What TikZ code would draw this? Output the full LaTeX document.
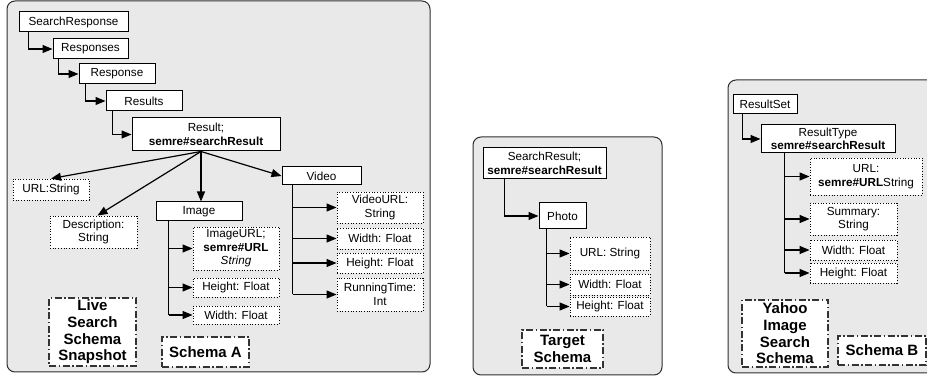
\documentclass[tikz,border=0pt]{standalone}
\usepackage{fontspec}
\setmainfont{Liberation Sans}
\usetikzlibrary{arrows.meta}
\definecolor{panelfill}{HTML}{E9E9E9}
\definecolor{panelline}{HTML}{2E2E2E}
\begin{document}
\begin{tikzpicture}[x=1pt,y=-1pt,
 every node/.style={font=\fontsize{11.7pt}{13.5pt}\selectfont, inner sep=0pt, align=center},
 panel/.style={draw=panelline, fill=panelfill, line width=1pt, rounded corners=8pt},
 box/.style={draw=black, fill=white, line width=1pt},
 dotbox/.style={draw=black, fill=white, line width=0.9pt, dash pattern=on 0.9pt off 1.8pt},
 lblbox/.style={draw=black!80, fill=white, line width=1.1pt, dash pattern=on 7pt off 2.5pt on 1.5pt off 2.5pt, font=\fontsize{15pt}{16.7pt}\selectfont\bfseries},
 arr/.style={line width=1.2pt, -{Triangle[length=10pt,width=8pt]}},
 ln/.style={line width=1.2pt}]
\useasboundingbox (0,0) rectangle (927,379);
\clip (0,0) rectangle (927,379);

% ---------- Panel 1 ----------
\draw[panel] (7,1) rectangle (430,372);
\node[box, minimum width=109pt, minimum height=20pt] (sr) at (73.5,22) {SearchResponse};
\node[box, minimum width=75pt, minimum height=20pt] (rs) at (90.5,49) {Responses};
\node[box, minimum width=76pt, minimum height=20pt] (rp) at (117,74) {Response};
\node[box, minimum width=76pt, minimum height=20pt] (rts) at (144,101) {Results};
\node[box, minimum width=148pt, minimum height=33pt] (res) at (206,134.5) {Result;\\\textbf{semre\#searchResult}};
\draw[arr] ([xshift=10pt]sr.south west) |- (rs.west);
\draw[arr] ([xshift=6pt]rs.south west) |- (rp.west);
\draw[arr] ([xshift=7pt]rp.south west) |- (rts.west);
\draw[arr] ([xshift=7pt]rts.south west) |- (res.west);

\node[dotbox, minimum width=76pt, minimum height=21pt] (url) at (51,189.5) {URL:String};
\node[dotbox, minimum width=87pt, minimum height=32pt] (desc) at (93.5,232) {Description:\\String};
\node[box, minimum width=86pt, minimum height=19pt] (img) at (199,211.5) {Image};
\node[box, minimum width=79pt, minimum height=18pt] (vid) at (321.5,176) {Video};
\coordinate (resb) at ([xshift=-5pt]res.south);
\draw[arr] (resb) -- (url.north);
\draw[arr] (resb) -- ([xshift=4pt]desc.north);
\draw[arr] (resb) -- (resb |- img.north);
\draw[arr] (resb) -- (vid.west);

\node[dotbox, minimum width=86pt, minimum height=43pt] (iurl) at (236,248.5) {ImageURL;\\\textbf{semre\#URL}\\\textit{String}};
\node[dotbox, minimum width=86pt, minimum height=19pt] (ih) at (236,287.5) {Height: Float};
\node[dotbox, minimum width=86pt, minimum height=18pt] (iw) at (236,315) {Width: Float};
\coordinate (ix) at ([xshift=13pt]img.south west);
\draw[ln] (ix) -- (ix |- iw.west);
\draw[arr] (ix |- iurl.west) -- (iurl.west);
\draw[arr] (ix |- ih.west) -- (ih.west);
\draw[arr] (ix |- iw.west) -- (iw.west);

\node[dotbox, minimum width=86pt, minimum height=31pt] (vurl) at (380,207.5) {VideoURL:\\String};
\node[dotbox, minimum width=86pt, minimum height=21pt] (vw) at (380,238.5) {Width: Float};
\node[dotbox, minimum width=86pt, minimum height=20pt] (vh) at (380,263) {Height: Float};
\node[dotbox, minimum width=86pt, minimum height=33pt] (vrt) at (380,294.5) {RunningTime:\\Int};
\coordinate (vx) at ([xshift=11pt]vid.south west);
\draw[ln] (vx) -- (vx |- vrt.west);
\draw[arr] (vx |- vurl.west) -- (vurl.west);
\draw[arr] (vx |- vw.west) -- (vw.west);
\draw[arr] (vx |- vh.west) -- (vh.west);
\draw[arr] (vx |- vrt.west) -- (vrt.west);

\node[lblbox, minimum width=87pt, minimum height=68pt] (live) at (92.5,332) {Live\\Search\\Schema\\Snapshot};
\node[lblbox, minimum width=87pt, minimum height=30pt] (sa) at (205.5,352) {Schema A};

% ---------- Panel 2 ----------
\draw[panel] (473,137) rectangle (662,375);
\node[box, minimum width=123pt, minimum height=31pt] (tsr) at (544.5,163.5) {SearchResult;\\\textbf{semre\#searchResult}};
\node[box, minimum width=47pt, minimum height=26pt] (photo) at (562.5,216) {Photo};
\draw[arr] ([xshift=22pt]tsr.south west) |- (photo.west);
\node[dotbox, minimum width=80pt, minimum height=33pt] (turl) at (610,253.5) {URL: String};
\node[dotbox, minimum width=80pt, minimum height=21pt] (tw) at (610,284.5) {Width: Float};
\node[dotbox, minimum width=80pt, minimum height=19pt] (th) at (610,306.5) {Height: Float};
\coordinate (px) at ([xshift=8pt]photo.south west);
\draw[ln] (px) -- (px |- th.west);
\draw[arr] (px |- turl.west) -- (turl.west);
\draw[arr] (px |- tw.west) -- (tw.west);
\draw[arr] (px |- th.west) -- (th.west);
\node[lblbox, minimum width=81pt, minimum height=38pt] (ts) at (562.5,349) {Target\\Schema};

% ---------- Panel 3 ----------
\draw[panel] (728,80) rectangle (945,373);
\node[box, minimum width=64pt, minimum height=19pt] (rset) at (765,104.5) {ResultSet};
\node[box, minimum width=134pt, minimum height=28pt] (rtype) at (828,139) {ResultType\\\textbf{semre\#searchResult}};
\draw[arr] ([xshift=10pt]rset.south west) |- (rtype.west);
\node[dotbox, minimum width=112pt, minimum height=37pt] (burl) at (866,176.5) {URL:\\\textbf{semre\#URL}String};
\node[dotbox, minimum width=87pt, minimum height=32pt] (bsum) at (853.5,219) {Summary:\\String};
\node[dotbox, minimum width=87pt, minimum height=20pt] (bw) at (853.5,250) {Width: Float};
\node[dotbox, minimum width=87pt, minimum height=20pt] (bh) at (853.5,273) {Height: Float};
\coordinate (bx) at ([xshift=24pt]rtype.south west);
\draw[ln] (bx) -- (bx |- bh.west);
\draw[arr] (bx |- burl.west) -- (burl.west);
\draw[arr] (bx |- bsum.west) -- (bsum.west);
\draw[arr] (bx |- bw.west) -- (bw.west);
\draw[arr] (bx |- bh.west) -- (bh.west);
\node[lblbox, minimum width=86pt, minimum height=67pt] (yahoo) at (785,333.5) {Yahoo\\Image\\Search\\Schema};
\node[lblbox, minimum width=88pt, minimum height=29pt] (sb) at (882,350.5) {Schema B};
\end{tikzpicture}
\end{document}
